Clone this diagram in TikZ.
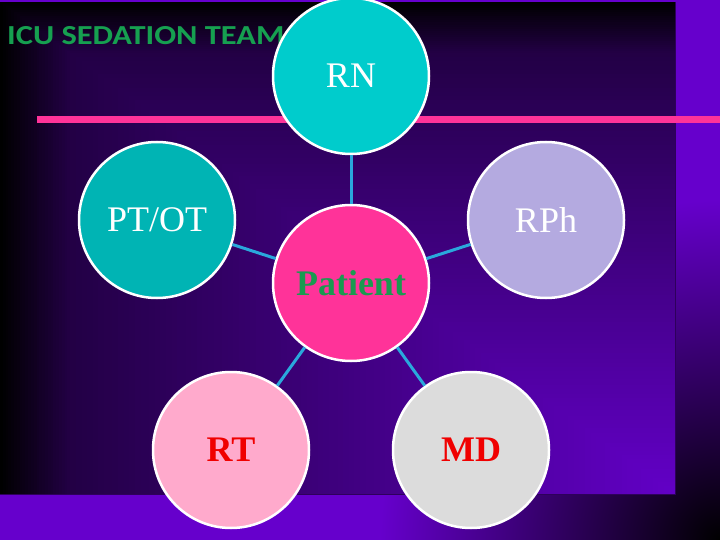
\documentclass[tikz,border=0pt]{standalone}
\usepackage{fontspec}
\setmainfont{Liberation Serif}
\newfontfamily\calibrifont{Carlito}
\definecolor{bgpurple}{HTML}{6600CC}
\definecolor{paneldark}{HTML}{220044}
\definecolor{panelend}{HTML}{6200C6}
\definecolor{pinkline}{HTML}{FF3399}
\definecolor{linkblue}{HTML}{2AA8DC}
\definecolor{rncyan}{HTML}{00CCCC}
\definecolor{ptteal}{HTML}{00B4B4}
\definecolor{rphlav}{HTML}{B4AAE0}
\definecolor{patpink}{HTML}{FF3399}
\definecolor{rtpink}{HTML}{FFAACC}
\definecolor{mdgrey}{HTML}{DCDCDC}
\definecolor{patgreen}{HTML}{1A9A50}
\definecolor{icugreen}{HTML}{16A050}
\definecolor{mdred}{HTML}{F00000}
\begin{document}
\begin{tikzpicture}[x=1pt,y=-1pt,
  member/.style={circle, draw=white, line width=2.5pt, minimum size=156pt, inner sep=0pt,
    font=\fontsize{36}{36}\selectfont},
  boldlabel/.style={font=\bfseries\fontsize{36}{36}\selectfont},
  link/.style={draw=linkblue, line width=3pt}]
\useasboundingbox (0,0) rectangle (720,540);
% outer background: purple, darkening into the bottom-right corner
\begin{scope}
  \clip (0,0) rectangle (720,540);
  \fill[bgpurple] (0,0) rectangle (720,540);
  \shade[inner color=black, outer color=bgpurple] (720,540) circle (340);
\end{scope}
% inner panel: rectangular gradient from the bottom-right corner
\foreach \i in {0,...,240} {
  \pgfmathsetmacro{\tv}{1-\i/240}
  \pgfmathtruncatemacro{\pa}{min(100,max(0,(1-\tv)*1000))}
  \pgfmathtruncatemacro{\pb}{min(100,max(0,\tv/0.9*100))}
  \ifdim\tv pt>0.9pt
    \colorlet{stepc}{paneldark!\pa!black}
  \else
    \colorlet{stepc}{paneldark!\pb!panelend}
  \fi
  \fill[stepc] ({675-\tv*675},{494-\tv*492}) rectangle (675,494);
}
\draw[draw=black!55!bgpurple, line width=0.8pt] (675,2) -- (675,494) -- (0,494);
% pink rule
\fill[pinkline] (37,116) rectangle (720,123.5);
% title
\node[anchor=base west, text=icugreen, inner sep=0pt,
  font=\calibrifont\bfseries\fontsize{27.5}{27.5}\selectfont] (title) at (7,45)
  {\scalebox{1.18}[1]{ICU SEDATION TEAM}};
% members
\node[member, fill=rncyan, text=white] (rn) at (351,76) {RN};
\node[member, fill=ptteal, text=white] (pt) at (157,220) {PT/OT};
\node[member, fill=rphlav, text=white] (rph) at (546,220) {RPh};
\node[member, boldlabel, fill=patpink, text=patgreen] (pat) at (351,283) {Patient};
\node[member, boldlabel, fill=rtpink, text=mdred] (rt) at (231,450) {RT};
\node[member, boldlabel, fill=mdgrey, text=mdred] (md) at (471,450) {MD};
% links
\draw[link] (pat) -- (rn);
\draw[link] (pat) -- (pt);
\draw[link] (pat) -- (rph);
\draw[link] (pat) -- (rt);
\draw[link] (pat) -- (md);
\end{tikzpicture}
\end{document}
